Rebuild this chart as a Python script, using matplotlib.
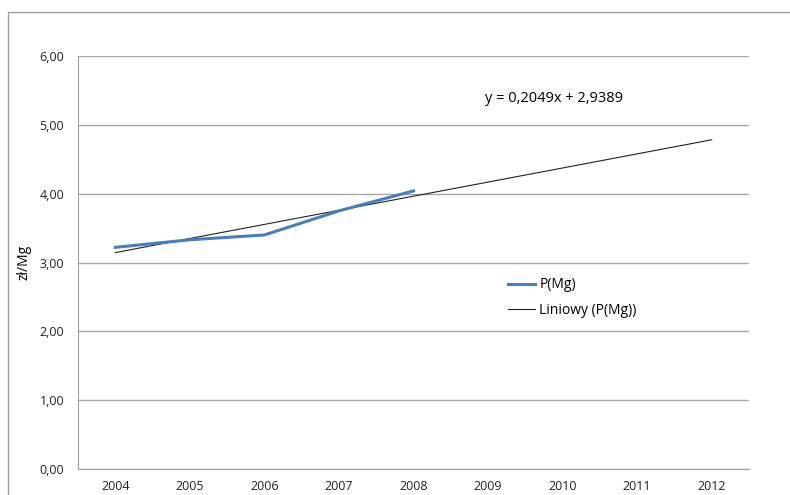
import matplotlib
matplotlib.use("Agg")
import matplotlib.pyplot as plt
from matplotlib.patches import Rectangle
import numpy as np

years = ['2004', '2005', '2006', '2007', '2008', '2009', '2010', '2011', '2012']
price = [3.22, 3.33, 3.40, 3.75, 4.04]
# linear trend shown on the chart
slope = 0.2049
intercept = 2.9389
y_ticks = [0, 1, 2, 3, 4, 5, 6]

plt.rcParams['font.family'] = ['Open Sans', 'DejaVu Sans']

fig = plt.figure(figsize=(7.9, 4.95), dpi=100)
ax = fig.add_axes([78/790, 1 - 469/495, (749 - 78)/790, (469 - 56)/495])

# outer chart border
fig.patches.append(Rectangle((8/790, -0.05), 1.0, 1 - 12/495 + 0.05,
                             transform=fig.transFigure, fill=False,
                             edgecolor='#a0a0a0', linewidth=1.0))

x = np.arange(len(years))
trend_x = x + 1
ax.plot(x, slope * trend_x + intercept, color='#222222', linewidth=0.8,
        label='Liniowy (P(Mg))', zorder=3)
ax.plot(x[:len(price)], price, color='#4a7ebb', linewidth=2.2,
        label='P(Mg)', zorder=4)

ax.set_xlim(-0.5, len(years) - 0.5)
ax.set_ylim(0, 6)
ax.set_xticks(x)
ax.set_xticklabels(years)
ax.set_yticks(y_ticks)
ax.set_yticklabels([f'{v:.2f}'.replace('.', ',') for v in y_ticks])
ax.tick_params(length=0, labelsize=9, colors='#222222')
ax.tick_params(axis='x', pad=8)
ax.tick_params(axis='y', pad=10)
ax.grid(axis='y', color='#a6a6a6', linewidth=1.0)
ax.set_axisbelow(True)
for s in ['top', 'right']:
    ax.spines[s].set_visible(False)
for s in ['left', 'bottom']:
    ax.spines[s].set_color('#a0a0a0')
ax.set_ylabel('zł/Mg', fontsize=10)
ax.yaxis.set_label_coords((31 - 78)/671, 0.5)

ax.text(485/790, 1 - 98/495, 'y = 0,2049x + 2,9389', transform=fig.transFigure,
        fontsize=10.5, va='center', ha='left')

handles, labels = ax.get_legend_handles_labels()
ax.legend(handles[::-1], labels[::-1], loc='upper left',
          bbox_to_anchor=((495 - 78)/671, 1 - (265 - 56)/413),
          frameon=False, fontsize=10, handlelength=2.0, handletextpad=0.3,
          labelspacing=0.75)

fig.savefig('out.png', dpi=100)
